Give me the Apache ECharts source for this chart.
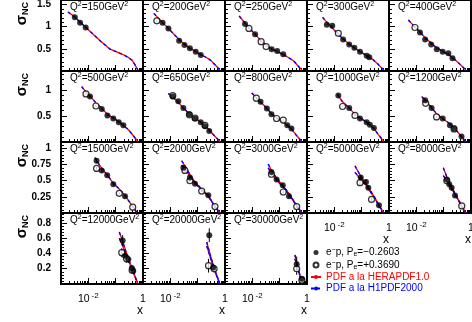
<!DOCTYPE html>
<html><head><meta charset="utf-8">
<script src="https://cdn.jsdelivr.net/npm/echarts@6/dist/echarts.min.js"></script>
<style>html,body{margin:0;padding:0;background:#fff}#c{width:472px;height:322px}</style>
</head><body><div id="c"></div>
<script>
// ---------- DATA ----------
const q2Values = [150,200,250,300,400,500,650,800,1000,1200,1500,2000,3000,5000,8000,12000,20000,30000];
// prediction curves (upper branch = common curve at low Q2) [x, sigma]
const fitUpper = [
 [[0.0018,1.33],[0.0032,1.22],[0.005,1.10],[0.0085,0.97],[0.015,0.83],[0.027,0.68],[0.06,0.50],[0.12,0.42],[0.2,0.36],[0.3,0.30],[0.4,0.24],[0.5,0.15],[0.65,0.02]],
 [[0.0025,1.30],[0.0035,1.20],[0.0052,1.09],[0.0085,0.96],[0.015,0.80],[0.021,0.71],[0.033,0.60],[0.052,0.51],[0.085,0.44],[0.13,0.37],[0.2,0.31],[0.3,0.24],[0.45,0.13],[0.65,0.02]],
 [[0.0033,1.24],[0.0054,1.08],[0.0082,0.95],[0.0126,0.83],[0.02,0.69],[0.032,0.58],[0.051,0.50],[0.081,0.44],[0.135,0.37],[0.2,0.31],[0.32,0.23],[0.45,0.13],[0.65,0.02]],
 [[0.0037,1.21],[0.0055,1.09],[0.0085,0.97],[0.0123,0.86],[0.021,0.72],[0.036,0.60],[0.055,0.52],[0.087,0.44],[0.15,0.35],[0.2,0.30],[0.27,0.25],[0.4,0.15],[0.65,0.02]],
 [[0.0051,1.15],[0.0089,0.99],[0.0136,0.88],[0.021,0.75],[0.033,0.64],[0.056,0.52],[0.095,0.44],[0.15,0.37],[0.21,0.30],[0.3,0.22],[0.45,0.12],[0.65,0.02]],
 [[0.0057,1.06],[0.0082,0.96],[0.0115,0.88],[0.019,0.75],[0.03,0.65],[0.05,0.53],[0.082,0.46],[0.13,0.39],[0.19,0.32],[0.3,0.23],[0.45,0.115],[0.65,0.01]],
 [[0.0084,0.93],[0.0123,0.86],[0.0195,0.76],[0.03,0.65],[0.049,0.54],[0.08,0.46],[0.13,0.38],[0.185,0.31],[0.265,0.23],[0.4,0.125],[0.65,0.01]],
 [[0.0095,0.94],[0.014,0.85],[0.02,0.76],[0.034,0.65],[0.05,0.54],[0.077,0.46],[0.135,0.38],[0.19,0.32],[0.27,0.25],[0.4,0.135],[0.65,0.01]],
 [[0.0129,0.91],[0.02,0.77],[0.035,0.65],[0.057,0.53],[0.087,0.46],[0.153,0.38],[0.2,0.33],[0.28,0.26],[0.4,0.145],[0.65,0.01]],
 [[0.0158,0.87],[0.021,0.80],[0.036,0.66],[0.055,0.54],[0.092,0.45],[0.17,0.345],[0.24,0.27],[0.45,0.105],[0.65,0.01]],
 [[0.0175,0.86],[0.02,0.81],[0.031,0.69],[0.049,0.59],[0.082,0.46],[0.144,0.36],[0.22,0.27],[0.42,0.10],[0.6,0.01]],
 [[0.026,0.81],[0.034,0.73],[0.052,0.60],[0.08,0.48],[0.14,0.37],[0.245,0.27],[0.43,0.10],[0.65,0.0]],
 [[0.038,0.76],[0.05,0.66],[0.077,0.54],[0.135,0.42],[0.22,0.30],[0.42,0.12],[0.65,0.0]],
 [[0.057,0.73],[0.092,0.57],[0.144,0.46],[0.2,0.36],[0.3,0.24],[0.43,0.12],[0.65,0.0]],
 [[0.097,0.70],[0.13,0.56],[0.16,0.48],[0.2,0.40],[0.26,0.30],[0.46,0.11],[0.65,0.0]],
 [[0.136,0.68],[0.18,0.56],[0.25,0.40],[0.4,0.20],[0.65,0.0]],
 [[0.214,0.55],[0.3,0.36],[0.42,0.19],[0.65,0.0]],
 [[0.36,0.38],[0.5,0.18],[0.65,0.0]]
];
// second (positive polarisation) branch, only distinct at high Q2
const fitLower = [
 [],[],[],[],[],[],[],[],[],[],[],
 [[0.026,0.74],[0.034,0.68],[0.052,0.57],[0.08,0.46],[0.14,0.36],[0.245,0.26],[0.43,0.10],[0.65,0.0]],
 [[0.038,0.70],[0.05,0.62],[0.077,0.51],[0.135,0.40],[0.22,0.28],[0.42,0.11],[0.65,0.0]],
 [[0.057,0.63],[0.092,0.52],[0.144,0.43],[0.2,0.34],[0.3,0.23],[0.43,0.11],[0.65,0.0]],
 [[0.097,0.58],[0.13,0.50],[0.16,0.44],[0.2,0.37],[0.26,0.29],[0.46,0.10],[0.65,0.0]],
 [[0.136,0.60],[0.18,0.50],[0.25,0.37],[0.4,0.19],[0.65,0.0]],
 [[0.214,0.50],[0.3,0.33],[0.42,0.17],[0.65,0.0]],
 [[0.36,0.33],[0.5,0.16],[0.65,0.0]]
];
// e-p Pe=-0.2603 points [x, sigma, error]
const pointsNeg = [
 [[0.0032,1.21,0.02],[0.005,1.09,0.02],[0.008,0.98,0.02]],
 [[0.0052,1.09,0.02],[0.0085,0.96,0.02],[0.021,0.68,0.015],[0.033,0.585,0.015],[0.052,0.51,0.015],[0.085,0.435,0.015],[0.13,0.36,0.015]],
 [[0.0054,1.06,0.02],[0.0126,0.83,0.02],[0.051,0.49,0.015],[0.081,0.45,0.015],[0.135,0.375,0.015]],
 [[0.0053,1.04,0.02],[0.0084,1.02,0.02],[0.021,0.71,0.015],[0.035,0.60,0.015],[0.054,0.525,0.015],[0.087,0.435,0.015],[0.153,0.345,0.015],[0.19,0.31,0.015]],
 [[0.0136,0.87,0.02],[0.021,0.71,0.015],[0.035,0.60,0.015],[0.056,0.49,0.015],[0.092,0.435,0.015],[0.148,0.40,0.015],[0.21,0.29,0.015]],
 [[0.0115,0.87,0.02],[0.031,0.63,0.015],[0.05,0.51,0.015],[0.082,0.45,0.015],[0.13,0.38,0.015],[0.19,0.32,0.015]],
 [[0.0123,0.87,0.02],[0.0195,0.78,0.02],[0.03,0.65,0.015],[0.049,0.53,0.015],[0.08,0.45,0.015],[0.13,0.38,0.015],[0.185,0.30,0.015],[0.265,0.21,0.015]],
 [[0.02,0.77,0.02],[0.034,0.64,0.02],[0.05,0.53,0.015],[0.19,0.32,0.015],[0.27,0.26,0.015]],
 [[0.014,0.89,0.02],[0.035,0.65,0.02],[0.087,0.45,0.015],[0.153,0.38,0.015],[0.2,0.33,0.015],[0.28,0.27,0.015]],
 [[0.021,0.80,0.02],[0.036,0.65,0.02],[0.092,0.45,0.015],[0.17,0.32,0.015],[0.24,0.26,0.015],[0.45,0.105,0.015]],
 [[0.02,0.81,0.03],[0.031,0.66,0.03],[0.049,0.585,0.02],[0.082,0.445,0.02],[0.22,0.26,0.02]],
 [[0.03,0.70,0.03],[0.052,0.55,0.03],[0.08,0.455,0.02],[0.245,0.275,0.02]],
 [[0.05,0.635,0.03],[0.077,0.52,0.03],[0.13,0.43,0.03],[0.22,0.26,0.03]],
 [[0.092,0.55,0.04],[0.144,0.48,0.04],[0.175,0.39,0.03],[0.43,0.12,0.03]],
 [[0.13,0.52,0.04],[0.16,0.445,0.04],[0.196,0.39,0.04],[0.26,0.27,0.03]],
 [[0.18,0.57,0.07],[0.22,0.37,0.05],[0.29,0.325,0.05],[0.39,0.21,0.04],[0.44,0.17,0.03]],
 [[0.266,0.64,0.09],[0.37,0.215,0.05]],
 [[0.42,0.26,0.1],[0.65,0.07,0.03]]
];
// e-p Pe=+0.3690 points [x, sigma, error]
const pointsPos = [
 [],
 [[0.0032,1.13,0.02]],
 [[0.0075,0.96,0.02],[0.021,0.66,0.02],[0.032,0.55,0.015]],
 [[0.014,0.85,0.02]],
 [[0.0089,0.98,0.02]],
 [[0.0082,0.92,0.02],[0.019,0.69,0.02]],
 [[0.0123,0.89,0.02],[0.05,0.52,0.015],[0.08,0.46,0.015],[0.185,0.32,0.015]],
 [[0.014,0.84,0.02],[0.077,0.45,0.015],[0.135,0.42,0.015]],
 [[0.02,0.68,0.02],[0.057,0.51,0.015]],
 [[0.022,0.74,0.02],[0.055,0.48,0.015],[0.24,0.25,0.015]],
 [[0.02,0.69,0.03],[0.135,0.305,0.02],[0.42,0.09,0.02]],
 [[0.034,0.66,0.03],[0.052,0.50,0.03],[0.14,0.34,0.02],[0.43,0.10,0.02]],
 [[0.05,0.60,0.03],[0.135,0.325,0.03],[0.42,0.10,0.03]],
 [[0.087,0.47,0.04],[0.23,0.21,0.03]],
 [[0.13,0.50,0.04],[0.46,0.11,0.03]],
 [[0.167,0.41,0.06],[0.25,0.33,0.05],[0.4,0.18,0.04]],
 [[0.25,0.24,0.09],[0.4,0.20,0.05]],
 [[0.42,0.20,0.08],[0.65,0.05,0.03]]
];
const yTickLabels = [[0.5,1,1.5],[0.5,1],[0.25,0.5,0.75,1],[0.2,0.4,0.6,0.8]];
const xTickLabels = {'-2':'{b|10}{s|-2}', '0':'{b|1}'};
const legendNames = ['e\u207Bp, Pe=\u22120.2603','e\u207Bp, Pe=+0.3690','PDF a la HERAPDF1.0','PDF a la H1PDF2000'];
const legendRich = [
 '{t|e}{sup|\u2212}{t|p, P}{sub|e}{t|=\u22120.2603}',
 '{t|e}{sup|\u2212}{t|p, P}{sub|e}{t|=+0.3690}',
 '{t|PDF a la HERAPDF1.0}',
 '{t|PDF a la H1PDF2000}'
];

// ---------- LAYOUT ----------
const FONT = '"Liberation Sans", Arial, Helvetica, sans-serif';
const X0 = 61, W = 82, Y0 = 0, H = 71;
const rowAxis = [{max:1.6, step:0.5},{max:1.36, step:0.5},{max:1.1, step:0.25},{max:0.93, step:0.2}];

const grids=[], xAxes=[], yAxes=[], series=[], titles=[];
q2Values.forEach((q,i)=>{
  const r = Math.floor(i/5), c = i%5;
  const left = X0 + c*W, top = Y0 + r*H;
  grids.push({left:left, top:top, width:W, height:H, show:true, borderColor:'#000', borderWidth:2, backgroundColor:'rgba(0,0,0,0)', containLabel:false, outerBoundsMode:'none'});
  const showX = (r===3) || (r===2 && c>=3);
  xAxes.push({
    type:'log', logBase:10, gridIndex:i, min:0.001, max:1,
    axisLine:{show:false},
    axisTick:{show:true, inside:true, length:6, lineStyle:{color:'#000', width:1}},
    minorTick:{show:true, splitNumber:9, length:3, lineStyle:{color:'#000', width:1}},
    splitLine:{show:false}, minorSplitLine:{show:false},
    axisLabel:{show:showX, margin:8, showMinLabel:true, showMaxLabel:true, hideOverlap:false, color:'#000',
      formatter:(v)=>{const l=Math.log10(v); const k=Math.round(l); if(Math.abs(l-k)>1e-6) return ''; return xTickLabels[String(k)]||'';},
      rich:{b:{fontFamily:FONT, fontSize:10.5, color:'#000', lineHeight:14}, s:{fontFamily:FONT, fontSize:8, color:'#000', verticalAlign:'top', lineHeight:9, padding:[0,0,0,2]}}},
    name: showX ? 'x' : '', nameLocation:'end', nameGap:0,
    nameTextStyle:{fontFamily:FONT, fontSize:12, color:'#000', align:'right', verticalAlign:'top', padding:[21,0,0,0]}
  });
  const ra = rowAxis[r];
  yAxes.push({
    type:'value', gridIndex:i, min:0, max:ra.max, interval:ra.step,
    axisLine:{show:false},
    axisTick:{show:true, inside:true, length:6, lineStyle:{color:'#000', width:1}},
    minorTick:{show:true, splitNumber:5, length:3, lineStyle:{color:'#000', width:1}},
    splitLine:{show:false}, minorSplitLine:{show:false},
    axisLabel:{show:c===0, margin:10, color:'#000', fontFamily:FONT, fontSize:10, fontWeight:'bold', showMaxLabel:true,
      formatter:(v)=> yTickLabels[r].some(t=>Math.abs(t-v)<1e-6) ? String(v) : ''}
  });
  titles.push({
    text:'{t|Q}{s|2}{t|=' + q + 'GeV}{s|2}', left:left+9, top:top+1, padding:0,
    textStyle:{fontWeight:'normal', fontFamily:FONT, fontSize:10, color:'#000',
      rich:{t:{fontFamily:FONT, fontSize:10, fontWeight:'normal', color:'#000', lineHeight:13}, s:{fontFamily:FONT, fontSize:7, fontWeight:'normal', color:'#000', verticalAlign:'top', lineHeight:8}}}
  });
  const addLine = (name, data, color, type, z) => {
    if (!data.length) return;
    series.push({type:'line', name:name, xAxisIndex:i, yAxisIndex:i, data:data, showSymbol:false, symbol:'none', smooth:false, clip:true, z:z,
      lineStyle:{color:color, width:1.3, type:type}, itemStyle:{color:color}, silent:true});
  };
  addLine(legendNames[2], fitUpper[i], '#ff0000', 'solid', 3);
  addLine(legendNames[2], fitLower[i], '#ff0000', 'solid', 3);
  addLine(legendNames[3], fitUpper[i], '#0000ff', [3,3], 4);
  addLine(legendNames[3], fitLower[i], '#0000ff', [3,3], 4);
  const errData = pointsNeg[i].concat(pointsPos[i]).map(p=>[p[0], p[1]-p[2], p[1]+p[2]]);
  series.push({type:'custom', xAxisIndex:i, yAxisIndex:i, clip:true, silent:true, z:5, encode:{x:0, y:[1,2]}, data:errData,
    renderItem:(params, api)=>{const a=api.coord([api.value(0), api.value(1)]); const b=api.coord([api.value(0), api.value(2)]);
      return {type:'line', shape:{x1:a[0], y1:a[1], x2:b[0], y2:b[1]}, style:{stroke:'#000', lineWidth:1}};}});
  series.push({type:'scatter', name:legendNames[1], xAxisIndex:i, yAxisIndex:i, data:pointsPos[i].map(p=>[p[0],p[1]]), symbol:'circle', symbolSize:6, z:6, clip:true, silent:true,
    itemStyle:{color:'#fff', borderColor:'#000', borderWidth:1.2}});
  series.push({type:'scatter', name:legendNames[0], xAxisIndex:i, yAxisIndex:i, data:pointsNeg[i].map(p=>[p[0],p[1]]), symbol:'circle', symbolSize:6, z:7, clip:true, silent:true,
    itemStyle:{color:'#000', borderColor:'#000', borderWidth:0}});
});

const graphics = [0,1,2,3].map(r=>({
  type:'text', x:22, y:Y0 + r*H + 2, rotation:Math.PI/2,
  style:{text:'{s|\u03C3}{n|NC}', align:'right', verticalAlign:'middle',
    rich:{s:{fontFamily:FONT, fontSize:15, fontWeight:'bold', fill:'#000', lineHeight:16}, n:{fontFamily:FONT, fontSize:9, fontWeight:'bold', fill:'#000', verticalAlign:'bottom', lineHeight:10}}}
}));

const chart = echarts.init(document.getElementById('c'), null, {renderer:'canvas', width:472, height:322});
chart.setOption({
  animation:false,
  backgroundColor:'#fff',
  title:titles,
  grid:grids, xAxis:xAxes, yAxis:yAxes, series:series,
  graphic:graphics,
  legend:{
    orient:'vertical', left:310, top:247, itemWidth:10, itemHeight:5, itemGap:1.5, padding:0, selectedMode:false,
    data:[
      {name:legendNames[0], icon:'circle', textStyle:{color:'#000'}},
      {name:legendNames[1], icon:'circle', textStyle:{color:'#000'}},
      {name:legendNames[2], textStyle:{color:'#ff0000'}},
      {name:legendNames[3], textStyle:{color:'#0000ff'}}
    ],
    formatter:(name)=> legendRich[legendNames.indexOf(name)],
    textStyle:{fontFamily:FONT, fontSize:10, padding:[0,0,0,0],
      rich:{t:{fontFamily:FONT, fontSize:10, lineHeight:11}, sup:{fontFamily:FONT, fontSize:7, verticalAlign:'top', lineHeight:7}, sub:{fontFamily:FONT, fontSize:7, verticalAlign:'bottom', lineHeight:7}}}
  }
});
</script></body></html>
